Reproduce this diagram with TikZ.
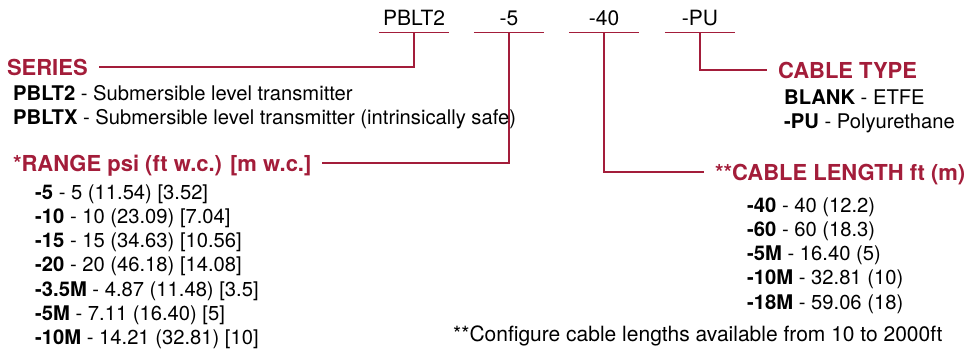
\documentclass[tikz,border=0pt]{standalone}
\usepackage{fontspec}
\setmainfont{TeX Gyre Heros}
\usetikzlibrary{positioning}
\definecolor{pbred}{RGB}{163,29,58}

\begin{document}
\begin{tikzpicture}[x=1pt,y=-1pt,
 code/.style={font=\fontsize{21}{24}\selectfont, anchor=base, minimum width=70pt,
   inner xsep=0pt, inner ysep=7pt},
 head/.style={text=pbred, font=\bfseries\fontsize{22}{26}\selectfont, anchor=base west,
   text height=16pt, text depth=0pt, inner sep=0pt, outer xsep=11pt},
 list/.style={font=\fontsize{20.2}{24.3}\selectfont, align=left, anchor=base west, inner sep=0pt},
 lead/.style={draw=pbred, line width=1.3pt}]
    \useasboundingbox (0,0) rectangle (965,348);
    % part number across the top, each piece underlined
    \node[code] (series) at (414,25) {PBLT2};
    \node[code] (range) at (509,25) {-5};
    \node[code] (length) at (604,25) {-40};
    \node[code] (cable) at (700,25) {-PU};
    \foreach \c in {series,range,length,cable}
        \draw[lead] (\c.south west) -- (\c.south east);

    % headings
    \node[head] (serieshead) at (-4,75) {SERIES};
    \node[head] (rangehead) at (2,171) {*RANGE psi (ft w.c.) [m w.c.]};
    \node[head] (lengthhead) at (704,180) {**CABLE LENGTH ft (m)};
    \node[head] (cablehead) at (767,78) {CABLE TYPE};

    % leader lines: |- makes the corner
    \draw[lead] (series.south) |- (serieshead.east);
    \draw[lead] (range.south) |- (rangehead.east);
    \draw[lead] (length.south) |- (lengthhead.west);
    \draw[lead] (cable.south) |- (cablehead.west);

    % option lists (base = baseline of the last line)
    \node[list] (serieslist) at (13,124.3) {\textbf{PBLT2} - Submersible level transmitter\\
        \textbf{PBLTX} - Submersible level transmitter (intrinsically safe)};
    \node[list] (rangelist) at (35,344.8) {\textbf{-5} - 5 (11.54) [3.52]\\
        \textbf{-10} - 10 (23.09) [7.04]\\
        \textbf{-15} - 15 (34.63) [10.56]\\
        \textbf{-20} - 20 (46.18) [14.08]\\
        \textbf{-3.5M} - 4.87 (11.48) [3.5]\\
        \textbf{-5M} - 7.11 (16.40) [5]\\
        \textbf{-10M} - 14.21 (32.81) [10]};
    \node[list] (lengthlist) at (747,309.2) {\textbf{-40} - 40 (12.2)\\
        \textbf{-60} - 60 (18.3)\\
        \textbf{-5M} - 16.40 (5)\\
        \textbf{-10M} - 32.81 (10)\\
        \textbf{-18M} - 59.06 (18)};
    \node[list] (cablelist) at (784,128.3) {\textbf{BLANK} - ETFE\\
        \textbf{-PU} - Polyurethane};

    \node[list, font=\fontsize{21}{24}\selectfont] (note) at (453,341)
        {**Configure cable lengths available from 10 to 2000ft};
\end{tikzpicture}
\end{document}
